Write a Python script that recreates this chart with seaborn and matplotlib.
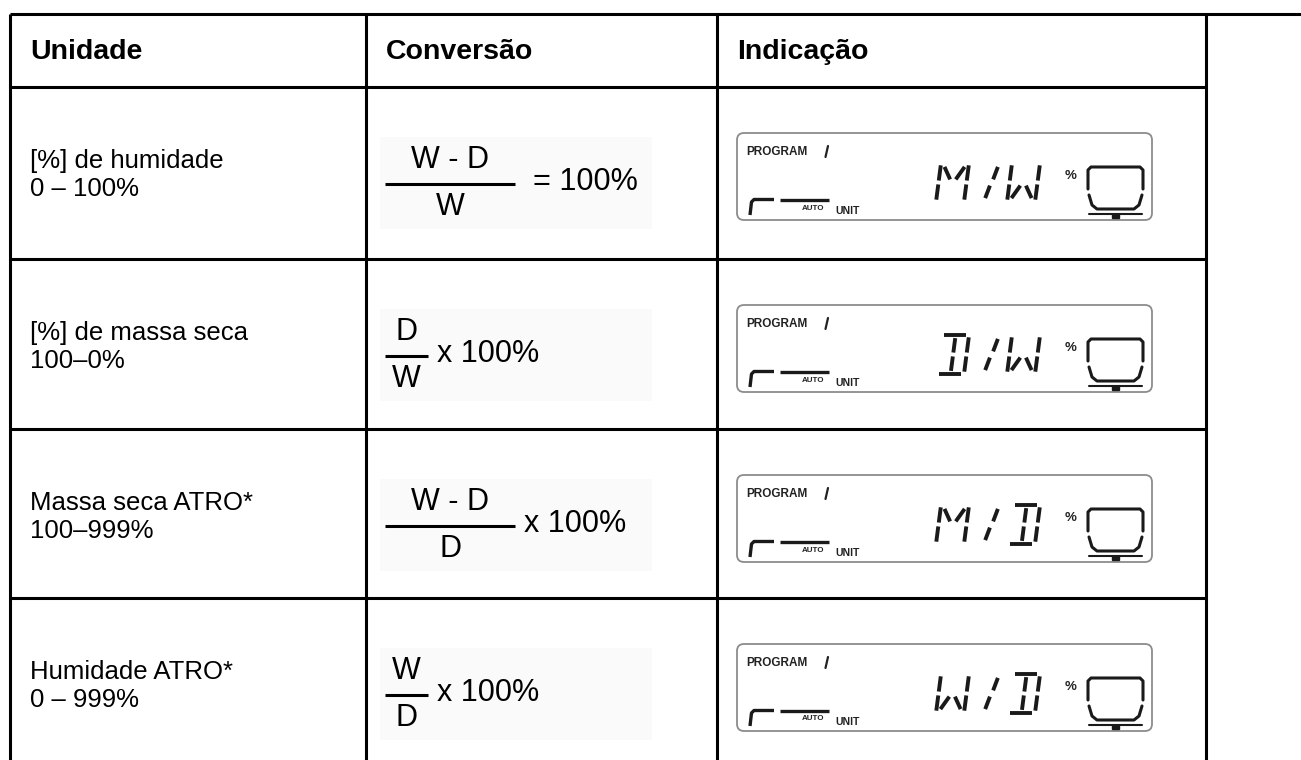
import matplotlib
matplotlib.use("Agg")
import matplotlib.pyplot as plt
import seaborn as sns
from matplotlib.patches import FancyBboxPatch, Rectangle

# table content
headers = ["Unidade", "Conversão", "Indicação"]
units = ["[%] de humidade", "[%] de massa seca", "Massa seca ATRO*", "Humidade ATRO*"]
ranges = ["0 – 100%", "100–0%", "100–999%", "0 – 999%"]
numerators = ["W - D", "D", "W - D", "W"]
denominators = ["W", "W", "D", "D"]
factors = ["= 100%", "x 100%", "x 100%", "x 100%"]
display_left = ["M", "D", "M", "W"]
display_right = ["W", "W", "D", "D"]

# 14-segment style glyphs, unit cell (0..1), y down
SEGMENTS = {
    "a": [(0.12, 0.0), (0.88, 0.0)],
    "b": [(1.0, 0.06), (1.0, 0.45)],
    "c": [(1.0, 0.55), (1.0, 0.94)],
    "d": [(0.12, 1.0), (0.88, 1.0)],
    "e": [(0.0, 0.55), (0.0, 0.94)],
    "f": [(0.0, 0.06), (0.0, 0.45)],
    "h": [(0.14, 0.1), (0.4, 0.42)],
    "i": [(0.52, 0.08), (0.52, 0.45)],
    "j": [(0.86, 0.1), (0.6, 0.42)],
    "k": [(0.4, 0.58), (0.14, 0.9)],
    "l": [(0.52, 0.55), (0.52, 0.92)],
    "m": [(0.6, 0.58), (0.86, 0.9)],
}
GLYPHS = {"M": "fehbcj", "W": "febckm", "D": "abcdil", "/": "jk"}

sns.set_theme(style="white")
plt.rcParams["font.family"] = ["Liberation Sans", "DejaVu Sans"]
plt.rcParams["text.color"] = "black"

W, H = 1301, 760
fig = plt.figure(figsize=(W / 100, H / 100), dpi=100)
ax = fig.add_axes([0, 0, 1, 1])
ax.set_xlim(0, W)
ax.set_ylim(H, 0)
ax.axis("off")

LW = 2.2
col_x = [10, 366, 717, 1206]
top = 14
row_tops = [87, 259, 429, 598]

# grid
ax.plot([col_x[0], W], [top, top], color="black", lw=LW, solid_capstyle="butt")
for x in col_x:
    ax.plot([x, x], [top, H], color="black", lw=LW, solid_capstyle="butt")
for y in row_tops:
    ax.plot([col_x[0], col_x[3]], [y, y], color="black", lw=LW, solid_capstyle="butt")

for x, label in zip(col_x[:3], headers):
    ax.text(x + 20, 52, label, fontsize=20.5, fontweight="bold", va="center", ha="left")


def seg_char(x0, y0, w, h, ch, slant=0.13, lw=2.8):
    for s in GLYPHS[ch]:
        pts = SEGMENTS[s]
        xs = [x0 + u * w + (1 - v) * h * slant for u, v in pts]
        ys = [y0 + v * h for u, v in pts]
        ax.plot(xs, ys, color="#1a1a1a", lw=lw, solid_capstyle="butt")


def lcd(bx, by, left, right):
    ax.add_patch(FancyBboxPatch((bx, by), 415, 87, boxstyle="round,pad=0,rounding_size=7",
                                fc="white", ec="#8c8c8c", lw=1.3))
    ax.text(bx + 9, by + 19, "PROGRAM", fontsize=8.5, fontweight="bold", va="center",
            ha="left", color="#222222")
    ax.plot([bx + 91, bx + 88.5], [by + 13, by + 24], color="#222222", lw=1.6)
    # bar graph bracket
    ax.plot([bx + 13, bx + 14.5, bx + 17, bx + 37], [by + 82, by + 69, by + 66.5, by + 66.5],
            color="#1a1a1a", lw=2.4, solid_capstyle="butt")
    ax.plot([bx + 43, bx + 92], [by + 66.5, by + 66.5], color="#1a1a1a", lw=2.4,
            solid_capstyle="butt")
    ax.text(bx + 76, by + 75, "AUTO", fontsize=5.8, fontweight="bold", ha="center",
            va="center", color="#222222")
    ax.text(bx + 98, by + 78, "UNIT", fontsize=7.5, fontweight="bold", ha="left",
            va="center", color="#222222")
    # main characters
    seg_char(bx + 199, by + 30, 28, 39, left)
    seg_char(bx + 246, by + 30, 12, 39, "/")
    seg_char(bx + 270, by + 30, 28, 39, right)
    ax.text(bx + 334, by + 43, "%", fontsize=9.5, fontweight="bold", ha="center",
            va="center", color="#222222")
    # pan symbol
    ax.plot([bx + 351, bx + 351, bx + 354, bx + 403, bx + 406, bx + 406],
            [by + 56, by + 37, by + 34, by + 34, by + 37, by + 56],
            color="#1a1a1a", lw=2.2, solid_joinstyle="round")
    ax.plot([bx + 352, bx + 355, bx + 360, bx + 397, bx + 402, bx + 405],
            [by + 62, by + 72, by + 76, by + 76, by + 72, by + 62],
            color="#1a1a1a", lw=2.2, solid_joinstyle="round")
    ax.plot([bx + 352, bx + 405], [by + 81, by + 81], color="#1a1a1a", lw=1.5)
    ax.add_patch(Rectangle((bx + 375, by + 81), 7, 3.5, color="#1a1a1a"))


for i, rt in enumerate(row_tops):
    # unit column
    ax.text(col_x[0] + 20, rt + 74, units[i], fontsize=18.5, va="center", ha="left")
    ax.text(col_x[0] + 20, rt + 102, ranges[i], fontsize=18.5, va="center", ha="left")

    # conversion column
    ax.add_patch(Rectangle((col_x[1] + 14, rt + 50), 272, 92, color="#fafafa", lw=0))
    line_w = 130 if len(numerators[i]) > 1 else 43
    fx = col_x[1] + 19
    ax.plot([fx, fx + line_w], [rt + 97, rt + 97], color="black", lw=2.2,
            solid_capstyle="butt")
    ax.text(fx + line_w / 2, rt + 73, numerators[i], fontsize=22, ha="center", va="center")
    ax.text(fx + line_w / 2, rt + 120, denominators[i], fontsize=22, ha="center", va="center")
    gap = 18 if factors[i].startswith("=") else 9
    ax.text(fx + line_w + gap, rt + 95, factors[i], fontsize=22, ha="left", va="center")

    # display column
    lcd(737, rt + 46, display_left[i], display_right[i])

fig.savefig("out.png", dpi=100)
